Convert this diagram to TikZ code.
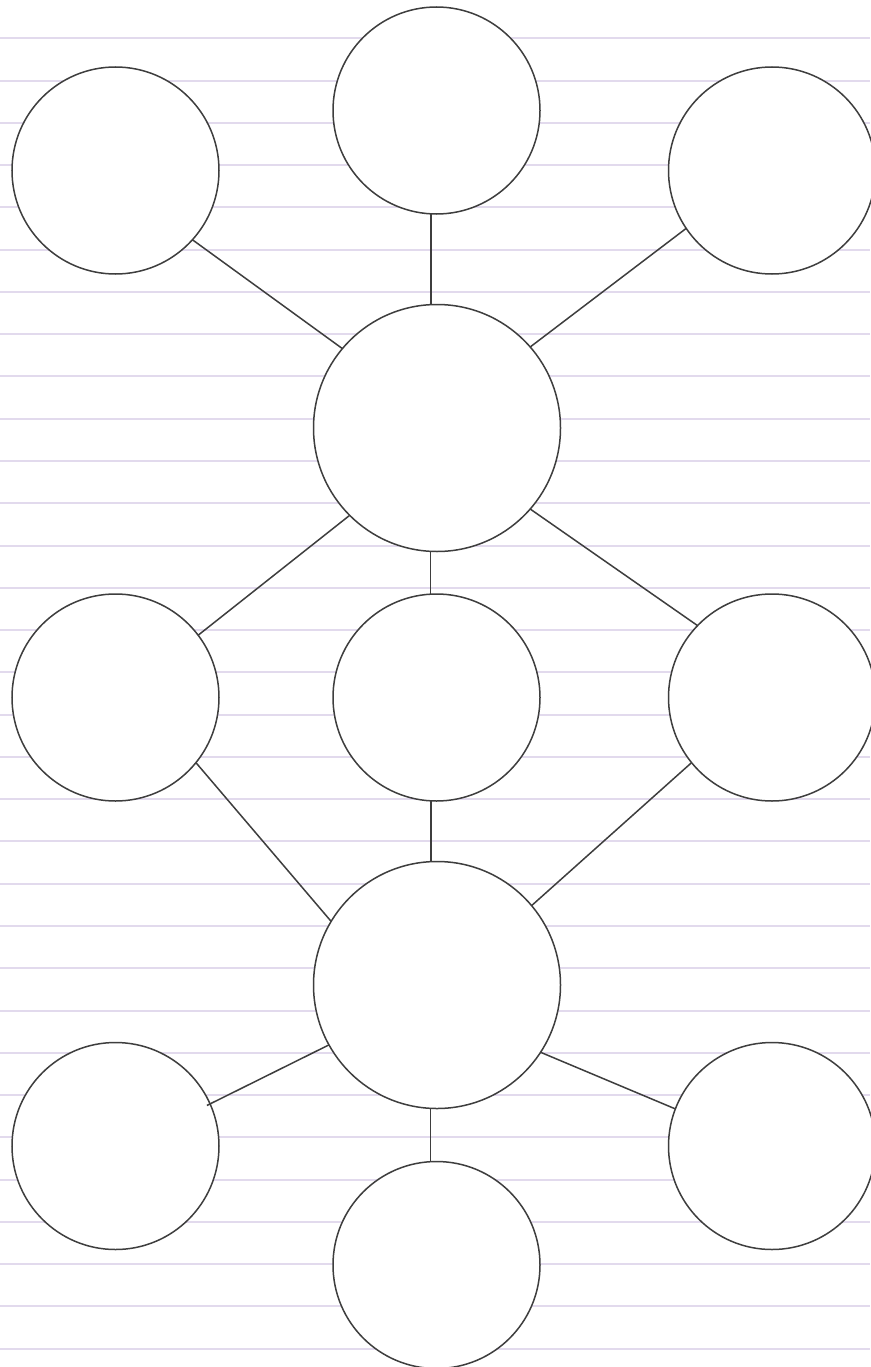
\documentclass[tikz,border=0pt]{standalone}
\usetikzlibrary{calc}
\definecolor{ruled}{RGB}{226,218,237}
\definecolor{ink}{RGB}{62,62,62}
\begin{document}
\begin{tikzpicture}[x=1pt,y=-1pt,
  small/.style={circle,draw=ink,fill=white,line width=1.5pt,inner sep=0pt,outer sep=0pt,minimum size=207pt},
  big/.style={circle,draw=ink,fill=white,line width=1.5pt,inner sep=0pt,outer sep=0pt,minimum size=247pt},
  link/.style={draw=ink,line width=1.5pt}]
\useasboundingbox (0,0) rectangle (870,1367);
\fill[white] (0,0) rectangle (870,1367);
\foreach \i in {0,...,31}{
  \pgfmathsetmacro{\yy}{round(38.3+42.27*\i)}
  \draw[ruled,line width=2pt] (0,\yy) -- (870,\yy);
}
\node[small] (TL) at (115.5,170.5) {};
\node[small] (TC) at (436.5,110.5) {};
\node[small] (TR) at (772,170.5) {};
\node[big]   (C1) at (437,428) {};
\node[small] (ML) at (115.5,697.5) {};
\node[small] (MC) at (436.5,697.5) {};
\node[small] (MR) at (772,697.5) {};
\node[big]   (C2) at (437,985) {};
\node[small] (BL) at (115.5,1146) {};
\node[small] (BR) at (772,1146) {};
\node[small] (BC) at (436.5,1265) {};
\draw[link] (TL.318.9) -- (C1.140.8);
\draw[link] (TC.267.8) -- (TC.267.8 |- C1.north);
\draw[link] (TR.214.05) -- (C1.41.1);
\draw[link] (C1.225.1) -- (ML.37.7);
\draw[link] (C1.267.9) -- (C1.267.9 |- MC.north);
\draw[link] (C1.319.1) -- (MR.136.1);
\draw[link] (ML.321.6) -- (C2.149.1);
\draw[link] (MC.267.8) -- (MC.267.8 |- C2.north);
\draw[link] (MR.219.1) -- (C2.40.4);
\draw[link,shorten >=-3.5pt] (C2.209.2) -- (BL.24.6);
\draw[link] (C2.327.9) -- (BR.159);
\draw[link] (C2.267.9) -- (C2.267.9 |- BC.north);
\end{tikzpicture}
\end{document}
